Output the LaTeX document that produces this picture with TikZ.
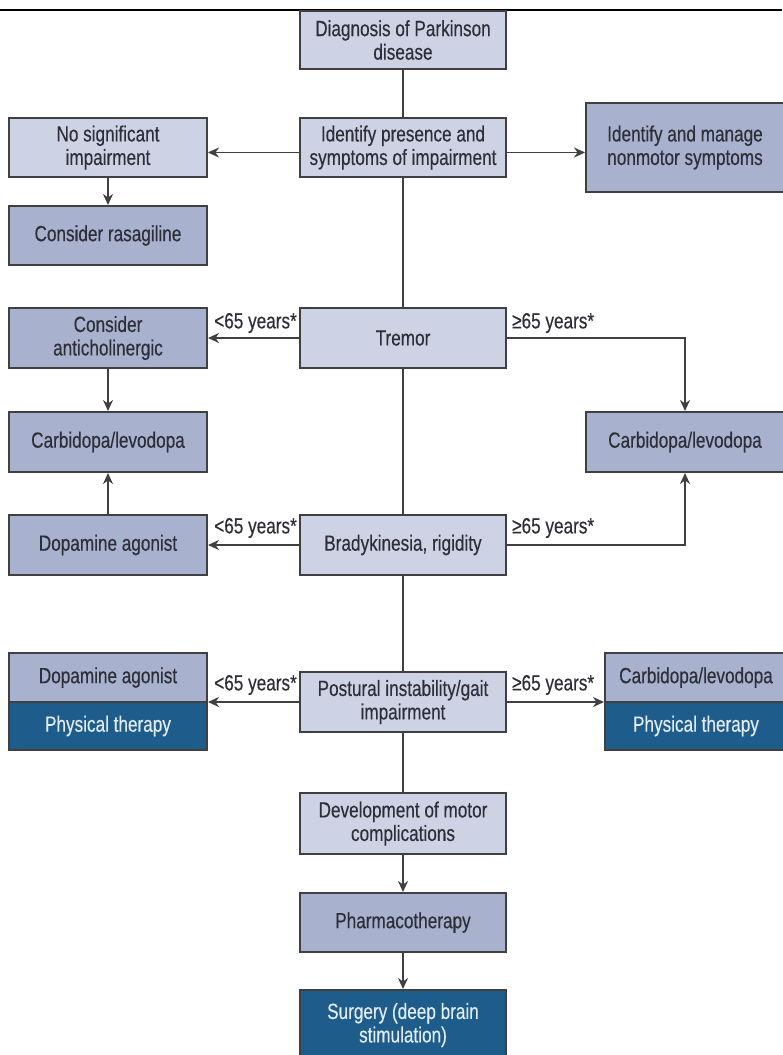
\documentclass[tikz,border=0pt]{standalone}
\usepackage{fontspec}
\setmainfont{Liberation Sans}[FakeStretch=0.78,FakeBold=0.3]
\usetikzlibrary{arrows.meta}
\definecolor{light}{HTML}{CDD3E5}
\definecolor{mid}{HTML}{A8B1CE}
\definecolor{dark}{HTML}{1E5D8B}
\definecolor{edge}{HTML}{404040}
\definecolor{txt}{HTML}{2E2E38}
\definecolor{wtxt}{HTML}{E2ECF6}
\begin{document}
\begin{tikzpicture}[x=1pt,y=-1pt,
 box/.style={draw=edge, line width=2pt, inner sep=0pt, align=center, font=\fontsize{22}{23.5}\selectfont, text=txt},
 lightbox/.style={box, fill=light},
 midbox/.style={box, fill=mid},
 darkbox/.style={box, fill=dark, text=wtxt},
 cbox/.style={minimum width=206pt},
 lbox/.style={minimum width=198pt},
 link/.style={draw=edge, line width=1.9pt},
 arr/.style={link, -{Stealth[length=11pt,width=10pt]}},
 lab/.style={font=\fontsize{22}{23.5}\selectfont, text=txt, inner sep=0pt}
]
\useasboundingbox (0,0) rectangle (782,1055);
\fill[white] (0,0) rectangle (782,1055);
\draw[line width=1.8pt, black] (0,10) -- (782,10);

\node[lightbox,cbox,minimum height=58pt] (diag) at (403,40) {Diagnosis of Parkinson\\disease};
\node[lightbox,cbox,minimum height=59pt] (ident) at (403,147.5) {Identify presence and\\symptoms of impairment};
\node[lightbox,lbox,minimum height=59pt] (nosig) at (108,147.5) {No significant\\impairment};
\node[midbox,minimum width=198pt,minimum height=89pt] (nonmotor) at (685,147.5) {Identify and manage\\nonmotor symptoms};
\node[midbox,lbox,minimum height=59pt] (rasa) at (108,235.5) {Consider rasagiline};
\node[lightbox,cbox,minimum height=60pt] (tremor) at (403,338) {Tremor};
\node[midbox,lbox,minimum height=60pt] (anti) at (108,338) {Consider\\anticholinergic};
\node[midbox,lbox,minimum height=60pt] (cdL) at (108,442) {Carbidopa/levodopa};
\node[midbox,minimum width=198pt,minimum height=60pt] (cdR) at (685,442) {Carbidopa/levodopa};
\node[lightbox,cbox,minimum height=60pt] (brady) at (403,545) {Bradykinesia, rigidity};
\node[midbox,lbox,minimum height=60pt] (dopa) at (108,545) {Dopamine agonist};
\node[lightbox,cbox,minimum height=60pt] (post) at (403,702) {Postural instability/gait\\impairment};
\node[midbox,lbox,minimum height=49pt] (dopL) at (108,677.5) {Dopamine agonist};
\node[darkbox,lbox,minimum height=48pt] (ptL) at (108,726) {Physical therapy};
\node[midbox,minimum width=182pt,minimum height=49pt] (cdR2) at (696,677.5) {Carbidopa/levodopa};
\node[darkbox,minimum width=182pt,minimum height=48pt] (ptR) at (696,726) {Physical therapy};
\node[lightbox,cbox,minimum height=61pt] (dev) at (403,823.5) {Development of motor\\complications};
\node[midbox,cbox,minimum height=59pt] (pharma) at (403,922.5) {Pharmacotherapy};
\node[darkbox,cbox,minimum height=70pt] (surg) at (403,1025) {Surgery (deep brain\\stimulation)};

\draw[link] (diag) -- (ident);
\draw[arr] ([yshift=-5pt]ident.west) -- ([yshift=-5pt]nosig.east);
\draw[arr] ([yshift=-5pt]ident.east) -- ([yshift=-5pt]nonmotor.west);
\draw[arr] (nosig) -- (rasa);
\draw[link] (ident) -- (tremor);
\draw[arr] (tremor) -- (anti);
\draw[arr] (tremor.east) -| (cdR.north);
\draw[arr] (anti) -- (cdL);
\draw[link] (tremor) -- (brady);
\draw[arr] (dopa) -- (cdL);
\draw[arr] (brady) -- (dopa);
\draw[arr] (brady.east) -| (cdR.south);
\draw[link] (brady) -- (post);
\draw[arr] (post.west) -- (post.west -| dopL.east);
\draw[arr] (post.east) -- (post.east -| cdR2.west);
\draw[link] (post) -- (dev);
\draw[arr] (dev) -- (pharma);
\draw[arr] (pharma) -- (surg);

\node[lab,anchor=east] (l1) at (297,323) {<65 years*};
\node[lab,anchor=west] (r1) at (512,323) {≥65 years*};
\node[lab,anchor=east] (l2) at (297,528) {<65 years*};
\node[lab,anchor=west] (r2) at (512,528) {≥65 years*};
\node[lab,anchor=east] (l3) at (297,685) {<65 years*};
\node[lab,anchor=west] (r3) at (512,685) {≥65 years*};
\end{tikzpicture}
\end{document}
